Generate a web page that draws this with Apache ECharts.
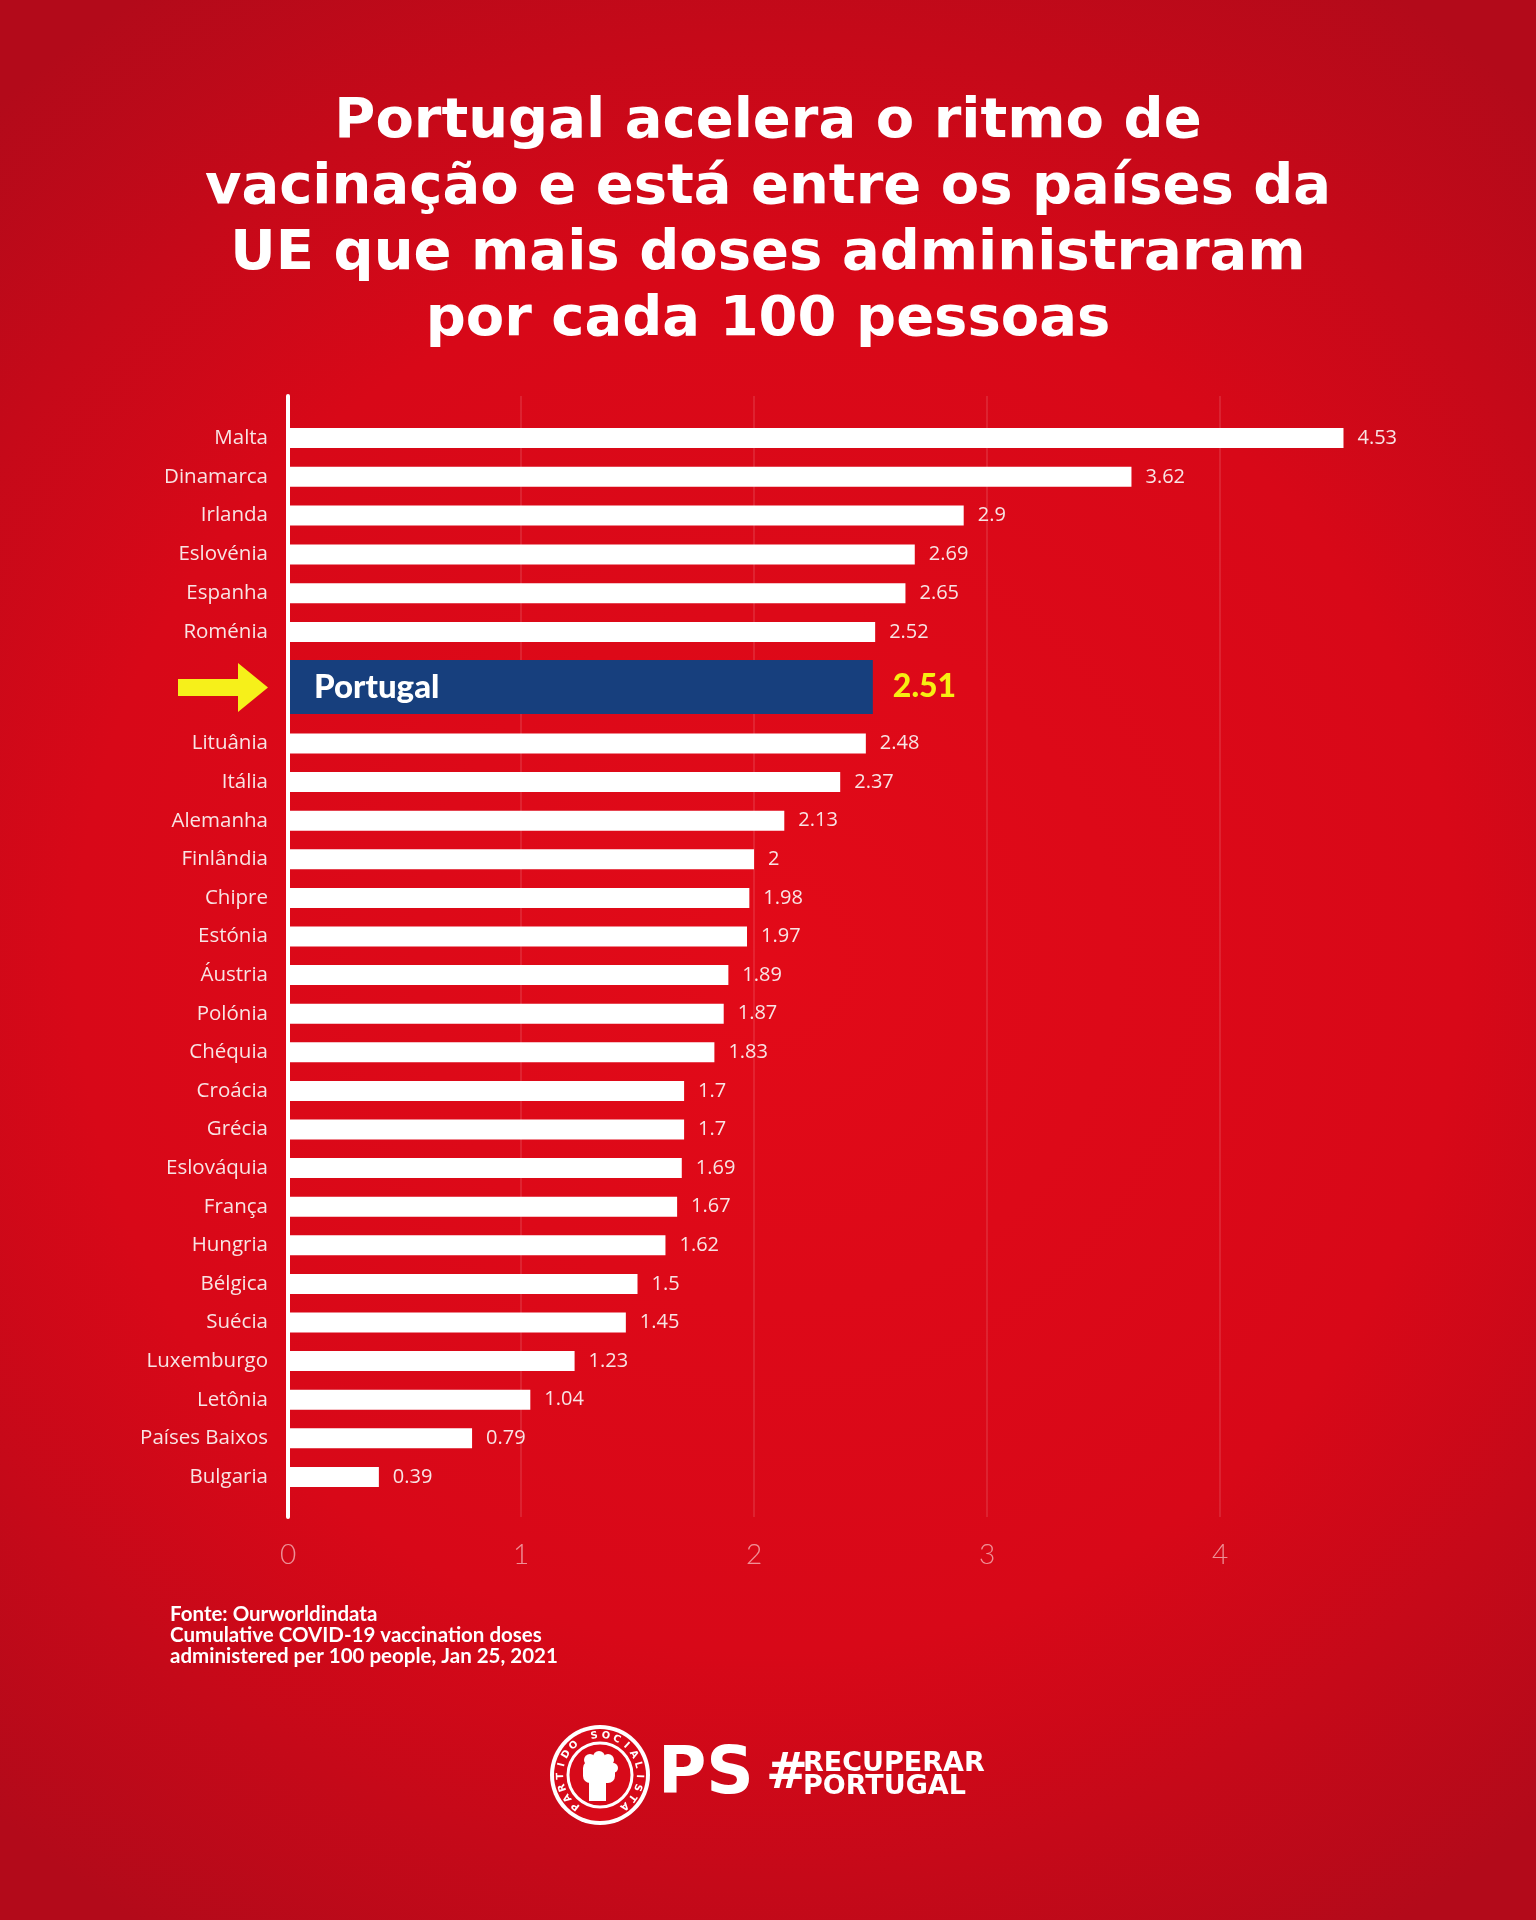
<!DOCTYPE html>
<html>
<head>
<meta charset="utf-8">
<script src="https://cdn.jsdelivr.net/npm/echarts@6/dist/echarts.min.js"></script>
<style>
  html, body { margin: 0; padding: 0; }
  #main { width: 1536px; height: 1920px; }
</style>
</head>
<body>
<div id="main"></div>
<script>
// data
var topNames = ['Malta', 'Dinamarca', 'Irlanda', 'Eslovénia', 'Espanha', 'Roménia'];
var topValues = [4.53, 3.62, 2.9, 2.69, 2.65, 2.52];
var ptNames = ['Portugal'];
var ptValues = [2.51];
var restNames = ['Lituânia', 'Itália', 'Alemanha', 'Finlândia', 'Chipre', 'Estónia', 'Áustria',
  'Polónia', 'Chéquia', 'Croácia', 'Grécia', 'Eslováquia', 'França', 'Hungria', 'Bélgica',
  'Suécia', 'Luxemburgo', 'Letônia', 'Países Baixos', 'Bulgaria'];
var restValues = [2.48, 2.37, 2.13, 2, 1.98, 1.97, 1.89, 1.87, 1.83, 1.7, 1.7, 1.69, 1.67,
  1.62, 1.5, 1.45, 1.23, 1.04, 0.79, 0.39];
var xMin = 0, xMax = 5, xStep = 1;

var myChart = echarts.init(document.getElementById('main'));

var labelColor = '#f8e4e4';
var font = 'Open Sans';

function hiddenX(i) {
  return { type: 'value', gridIndex: i, min: xMin, max: xMax, show: false };
}
function catY(i, names) {
  return {
    type: 'category', gridIndex: i, inverse: true, data: names,
    axisLine: { show: false }, axisTick: { show: false },
    axisLabel: { color: labelColor, fontSize: 20.5, fontFamily: font, margin: 20 }
  };
}
var barLabel = {
  show: true, position: 'right', distance: 14,
  color: labelColor, fontSize: 20, fontFamily: font
};

// little logo: letters round the ring
var logoCx = 600, logoCy = 1775;
var ringText = 'PARTIDO SOCIALISTA';
var ringEls = [];
for (var i = 0; i < ringText.length; i++) {
  var a = (232 - i * (284 / (ringText.length - 1))) * Math.PI / 180;
  ringEls.push({
    type: 'text',
    x: logoCx + 39.5 * Math.cos(a),
    y: logoCy - 39.5 * Math.sin(a),
    rotation: a - Math.PI / 2,
    style: {
      text: ringText[i], fill: '#fff', fontSize: 10, fontWeight: 'bold',
      fontFamily: 'DejaVu Sans', align: 'center', verticalAlign: 'middle'
    }
  });
}

var option = {
  backgroundColor: new echarts.graphic.RadialGradient(0.5, 0.5, 0.75, [
    { offset: 0, color: '#e20a18' },
    { offset: 0.6, color: '#d80818' },
    { offset: 1, color: '#b30a1a' }
  ]),
  grid: [
    { left: 288, top: 396, width: 1165, height: 1121 },
    { left: 288, top: 418.6, width: 1165, height: 232.8 },
    { left: 288, top: 660, width: 1165, height: 54 },
    { left: 288, top: 724.2, width: 1165, height: 772 }
  ],
  xAxis: [
    {
      type: 'value', gridIndex: 0, min: xMin, max: xMax, interval: xStep,
      axisLine: { show: false }, axisTick: { show: false },
      splitLine: { show: true, showMinLine: false, showMaxLine: false,
        lineStyle: { color: 'rgba(255,255,255,0.14)', width: 1.5 } },
      axisLabel: { color: 'rgba(255,235,235,0.6)', fontSize: 28, fontFamily: 'Lato',
        fontWeight: 300, margin: 24, showMaxLabel: false }
    },
    hiddenX(1), hiddenX(2), hiddenX(3)
  ],
  yAxis: [
    {
      type: 'value', gridIndex: 0, min: 0, max: 1, z: 10,
      axisLine: { show: true, lineStyle: { color: '#ffffff', width: 4 } },
      axisTick: { show: false }, axisLabel: { show: false }, splitLine: { show: false }
    },
    catY(1, topNames),
    {
      type: 'category', gridIndex: 2, inverse: true, data: ptNames, z: 11,
      axisLine: { show: false }, axisTick: { show: false },
      axisLabel: { inside: true, margin: 26, color: '#ffffff', fontSize: 33,
        fontWeight: 900, fontFamily: 'Lato' }
    },
    catY(3, restNames)
  ],
  series: [
    {
      type: 'bar', xAxisIndex: 1, yAxisIndex: 1, data: topValues,
      barWidth: 20, itemStyle: { color: '#ffffff' }, label: barLabel
    },
    {
      type: 'bar', xAxisIndex: 2, yAxisIndex: 2, data: ptValues,
      barWidth: 54, itemStyle: { color: '#173f7d' },
      label: { show: true, position: 'right', distance: 20, color: '#f7ee12',
        fontSize: 32, fontWeight: 900, fontFamily: 'Lato' }
    },
    {
      type: 'bar', xAxisIndex: 3, yAxisIndex: 3, data: restValues,
      barWidth: 20, itemStyle: { color: '#ffffff' }, label: barLabel
    }
  ],
  graphic: [
    {
      type: 'text', x: 768, y: 89,
      style: {
        text: 'Portugal acelera o ritmo de\nvacinação e está entre os países da\nUE que mais doses administraram\npor cada 100 pessoas',
        fill: '#ffffff', fontSize: 56, fontWeight: 'bold', fontFamily: 'DejaVu Sans',
        align: 'center', lineHeight: 66
      }
    },
    {
      // yellow arrow pointing at Portugal
      type: 'polygon',
      shape: { points: [[178, 679], [238, 679], [238, 663], [268, 687.5], [238, 712], [238, 696], [178, 696]] },
      style: { fill: '#f6f01a' }
    },
    {
      type: 'text', x: 170, y: 1604,
      style: {
        text: 'Fonte: Ourworldindata\nCumulative COVID-19 vaccination doses\nadministered per 100 people, Jan 25, 2021',
        fill: '#ffffff', fontSize: 20.5, fontWeight: 'bold', fontFamily: 'Lato', lineHeight: 21
      }
    },
    {
      type: 'group',
      children: [
        { type: 'circle', shape: { cx: logoCx, cy: logoCy, r: 50 }, style: { fill: '#ffffff' } },
        { type: 'circle', shape: { cx: logoCx, cy: logoCy, r: 46 }, style: { fill: '#d70a19' } },
        { type: 'circle', shape: { cx: logoCx, cy: logoCy, r: 32 }, style: { fill: '#d70a19', stroke: '#ffffff', lineWidth: 3 } },
        { type: 'rect', shape: { x: logoCx - 11, y: logoCy + 2, width: 17, height: 24 }, style: { fill: '#ffffff' } },
        { type: 'rect', shape: { x: logoCx - 17, y: logoCy - 14, width: 32, height: 22, r: 7 }, style: { fill: '#ffffff' } },
        { type: 'circle', shape: { cx: logoCx - 10, cy: logoCy - 15, r: 6 }, style: { fill: '#ffffff' } },
        { type: 'circle', shape: { cx: logoCx - 1, cy: logoCy - 18, r: 6 }, style: { fill: '#ffffff' } },
        { type: 'circle', shape: { cx: logoCx + 8, cy: logoCy - 15, r: 6 }, style: { fill: '#ffffff' } },
        { type: 'circle', shape: { cx: logoCx + 13, cy: logoCy - 7, r: 5 }, style: { fill: '#ffffff' } }
      ].concat(ringEls)
    },
    {
      type: 'text', x: 658, y: 1776,
      style: { text: 'PS', fill: '#ffffff', fontSize: 66, fontWeight: 'bold',
        fontFamily: 'DejaVu Sans', verticalAlign: 'middle' }
    },
    {
      type: 'text', x: 766, y: 1775,
      style: { text: '#', fill: '#ffffff', fontSize: 50, fontWeight: 'bold',
        fontFamily: 'DejaVu Sans', verticalAlign: 'middle' }
    },
    {
      type: 'text', x: 803, y: 1752,
      style: { text: 'RECUPERAR\nPORTUGAL', fill: '#ffffff', fontSize: 27, fontWeight: 'bold',
        fontFamily: 'DejaVu Sans', lineHeight: 23 }
    }
  ]
};

myChart.setOption(option);
</script>
</body>
</html>
